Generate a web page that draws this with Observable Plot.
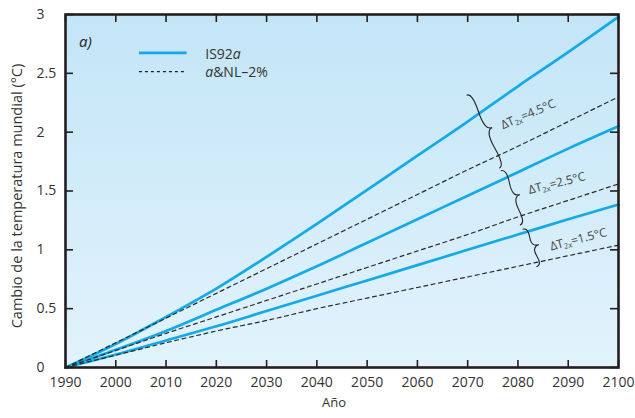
<!DOCTYPE html>
<html><head><meta charset="utf-8">
<script src="https://cdn.jsdelivr.net/npm/d3@7"></script>
<script src="https://cdn.jsdelivr.net/npm/@observablehq/plot@0.6"></script>
<style>body{margin:0;background:#fff} svg{display:block}</style>
</head><body><div id="chart"></div>
<script>
// ---- data ----
const years = [1990, 2000, 2010, 2020, 2030, 2040, 2050, 2060, 2070, 2080, 2090, 2100];
const is92a_45 = [0, 0.20, 0.43, 0.67, 0.94, 1.22, 1.51, 1.80, 2.09, 2.39, 2.68, 2.98];
const is92a_25 = [0, 0.15, 0.31, 0.49, 0.67, 0.86, 1.06, 1.26, 1.46, 1.66, 1.86, 2.05];
const is92a_15 = [0, 0.11, 0.23, 0.35, 0.48, 0.61, 0.74, 0.87, 1.00, 1.13, 1.26, 1.385];
const anl_45 = [0, 0.21, 0.42, 0.63, 0.84, 1.05, 1.26, 1.47, 1.68, 1.88, 2.09, 2.30];
const anl_25 = [0, 0.145, 0.29, 0.43, 0.57, 0.71, 0.85, 0.99, 1.13, 1.28, 1.42, 1.56];
const anl_15 = [0, 0.105, 0.21, 0.31, 0.40, 0.50, 0.59, 0.68, 0.77, 0.86, 0.95, 1.04];
const xTicks = [1990, 2000, 2010, 2020, 2030, 2040, 2050, 2060, 2070, 2080, 2090, 2100];
const yTicks = [0, 0.5, 1, 1.5, 2, 2.5, 3];
const yTickLabels = ["0", "0.5", "1", "1.5", "2", "2.5", "3"];
const sensitivities = ["4.5", "2.5", "1.5"];
// brace end points (year, °C) and label anchors
const braceTop = [[2069.9, 2.31], [2076.7, 1.668], [2081.0, 1.170]];
const braceBottom = [[2076.4, 1.69], [2080.5, 1.206], [2083.8, 0.852]];
const labelPos = [[2077.1, 2.02], [2082.4, 1.47], [2086.7, 0.99]];
const labelAngle = [-23, -14, -14.5];
const legendNames = ["IS92", "a&NL\u20132%"];

const blue = "#14a9e8";
const ink = "#231f20";
const FONT = "'Open Sans', 'Noto Sans', sans-serif";

const rows = [];
const addSeries = (vals, name, type) => years.forEach((y, i) => rows.push({year: y, value: vals[i], series: name, type}));
addSeries(is92a_45, "IS92a 4.5", "is92a");
addSeries(is92a_25, "IS92a 2.5", "is92a");
addSeries(is92a_15, "IS92a 1.5", "is92a");
addSeries(anl_45, "aNL 4.5", "anl");
addSeries(anl_25, "aNL 2.5", "anl");
addSeries(anl_15, "aNL 1.5", "anl");

function bracePath(x1, y1, x2, y2, w, q) {
  let dx = x1 - x2, dy = y1 - y2;
  const len = Math.sqrt(dx * dx + dy * dy);
  dx /= len; dy /= len;
  const qx1 = x1 + q * w * dy, qy1 = y1 - q * w * dx;
  const qx2 = (x1 - .25 * len * dx) + (1 - q) * w * dy, qy2 = (y1 - .25 * len * dy) - (1 - q) * w * dx;
  const tx1 = (x1 - .5 * len * dx) + w * dy, ty1 = (y1 - .5 * len * dy) - w * dx;
  const qx3 = x2 + q * w * dy, qy3 = y2 - q * w * dx;
  const qx4 = (x1 - .75 * len * dx) + (1 - q) * w * dy, qy4 = (y1 - .75 * len * dy) - (1 - q) * w * dx;
  return `M${x1},${y1}Q${qx1},${qy1} ${qx2},${qy2}T${tx1},${ty1}M${x2},${y2}Q${qx3},${qy3} ${qx4},${qy4}T${tx1},${ty1}`;
}

const defsMark = () => {
  const g = d3.create("svg:g");
  const lg = g.append("defs").append("linearGradient")
    .attr("id", "bgGrad").attr("x1", 0).attr("y1", 0).attr("x2", 0).attr("y2", 1);
  lg.append("stop").attr("offset", "0%").attr("stop-color", "#c3e5f7");
  lg.append("stop").attr("offset", "100%").attr("stop-color", "#e2f3fc");
  return g.node();
};

const annotations = (index, scales) => {
  const {x, y} = scales;
  const g = d3.create("svg:g").attr("font-family", FONT).attr("fill", "#333").attr("text-anchor", "start");
  // braces
  sensitivities.forEach((s, i) => {
    const [bx1, by1] = braceBottom[i], [bx2, by2] = braceTop[i];
    g.append("path")
      .attr("d", bracePath(x(bx1), y(by1), x(bx2), y(by2), 10, 0.6))
      .attr("fill", "none").attr("stroke", "#222").attr("stroke-width", 1.1);
    const [lx, ly] = labelPos[i];
    const t = g.append("text")
      .attr("transform", `translate(${x(lx)},${y(ly)}) rotate(${labelAngle[i]})`)
      .attr("font-size", 12).attr("fill", "#444");
    t.append("tspan").text("\u0394T");
    t.append("tspan").attr("font-size", 7.5).attr("dy", 2).text("2x");
    t.append("tspan").attr("dy", -2).text(`=${s}\u00b0C`);
  });
  // panel tag
  g.append("text").attr("x", x(1992.8)).attr("y", y(2.72)).attr("font-size", 15)
    .attr("font-style", "italic").attr("fill", "#222").text("a)");
  // legend
  g.append("line").attr("x1", x(2004.7)).attr("x2", x(2014.2)).attr("y1", y(2.67)).attr("y2", y(2.67))
    .attr("stroke", blue).attr("stroke-width", 2.6);
  g.append("line").attr("x1", x(2004.7)).attr("x2", x(2014.2)).attr("y1", y(2.51)).attr("y2", y(2.51))
    .attr("stroke", "#222").attr("stroke-width", 1.1).attr("stroke-dasharray", "3,3");
  const t1 = g.append("text").attr("x", x(2017.9)).attr("y", y(2.62)).attr("font-size", 14).attr("fill", "#333");
  t1.append("tspan").text(legendNames[0]);
  t1.append("tspan").attr("font-style", "italic").text("a");
  const t2 = g.append("text").attr("x", x(2017.9)).attr("y", y(2.465)).attr("font-size", 14).attr("fill", "#333");
  t2.append("tspan").attr("font-style", "italic").text(legendNames[1].slice(0, 1));
  t2.append("tspan").text(legendNames[1].slice(1));
  return g.node();
};

const titles = () => {
  const g = d3.create("svg:g").attr("font-family", FONT).attr("fill", "#333");
  g.append("text").attr("transform", `translate(21.5,196) rotate(-90)`).attr("text-anchor", "middle")
    .attr("font-size", 14.5).text("Cambio de la temperatura mundial (\u00b0C)");
  g.append("text").attr("x", 334).attr("y", 407).attr("text-anchor", "middle")
    .attr("font-size", 13).text("A\u00f1o");
  return g.node();
};

const chart = Plot.plot({
  width: 635, height: 418,
  marginLeft: 65, marginRight: 17, marginTop: 14, marginBottom: 51,
  style: {fontFamily: FONT, background: "#fff", overflow: "visible"},
  x: {domain: [1990, 2100], label: null},
  y: {domain: [0, 3], label: null},
  marks: [
    defsMark,
    Plot.frame({fill: "url(#bgGrad)"}),
    Plot.line(rows.filter(d => d.type === "is92a"), {x: "year", y: "value", z: "series", stroke: blue, strokeWidth: 2.7, curve: "monotone-x"}),
    Plot.line(rows.filter(d => d.type === "anl"), {x: "year", y: "value", z: "series", stroke: "#2a2a2a", strokeWidth: 1.2, strokeDasharray: "4,3.5", curve: "monotone-x"}),
    // inward ticks on all four sides
    Plot.axisX(xTicks, {anchor: "bottom", tickSize: -7, tickFormat: () => "", stroke: ink, strokeWidth: 1.6, label: null}),
    Plot.axisX(xTicks, {anchor: "top", tickSize: -7, tickFormat: () => "", stroke: ink, strokeWidth: 1.6, label: null}),
    Plot.axisY(yTicks, {anchor: "left", tickSize: -8, tickFormat: () => "", stroke: ink, strokeWidth: 1.6, label: null}),
    Plot.axisY(yTicks, {anchor: "right", tickSize: -9, tickFormat: () => "", stroke: ink, strokeWidth: 1.6, label: null}),
    // labels
    Plot.axisX(xTicks, {anchor: "bottom", tickSize: 0, tickPadding: 10, tickFormat: d => String(d), fontSize: 14, fill: "#333", label: null}),
    Plot.axisY(yTicks, {anchor: "left", tickSize: 0, tickPadding: 29, textAnchor: "start", tickFormat: d => yTickLabels[yTicks.indexOf(d)], fontSize: 14, fill: "#333", label: null}),
    Plot.frame({stroke: ink, strokeWidth: 2.6}),
    annotations,
    titles
  ]
});
document.getElementById("chart").appendChild(chart);
</script>
</body></html>
